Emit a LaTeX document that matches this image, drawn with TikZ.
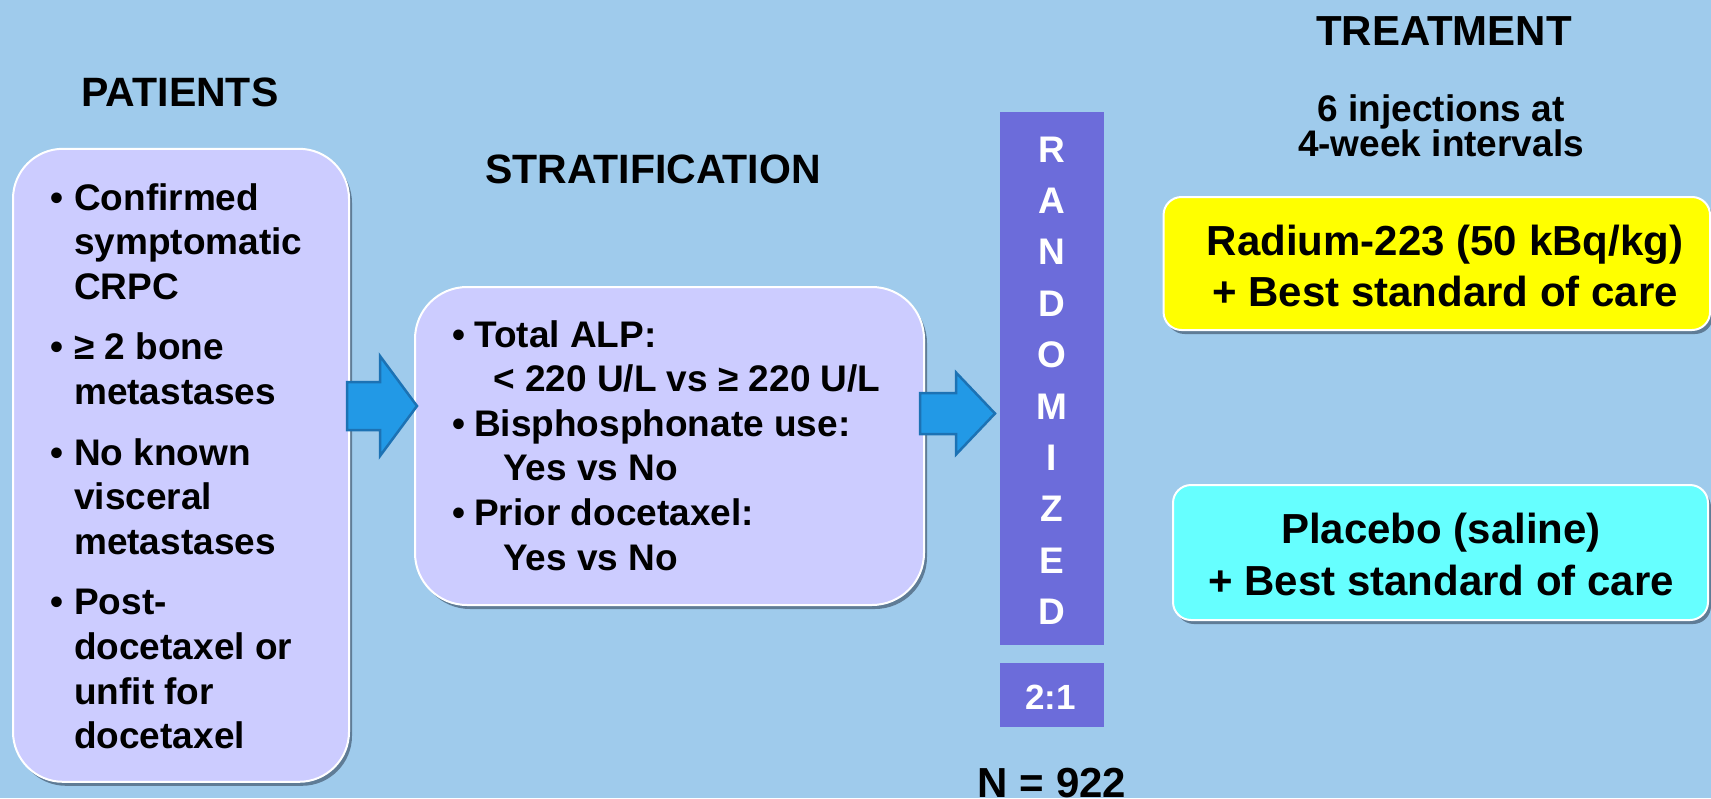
\documentclass[tikz,border=0pt]{standalone}
\usepackage{fontspec}
\setmainfont{Liberation Sans}
\usetikzlibrary{shadows}
\definecolor{bgblue}{HTML}{9FCBEC}
\definecolor{lav}{HTML}{CCCCFF}
\definecolor{barc}{HTML}{6C6CDA}
\definecolor{arrfill}{HTML}{2299E6}
\definecolor{arrline}{HTML}{1C72B4}
\definecolor{shadowc}{HTML}{5F7C96}
\definecolor{yel}{HTML}{FFFF00}
\definecolor{cyn}{HTML}{66FFFF}
\newcommand\fsz[2]{\fontsize{#1}{#2}\selectfont}
\tikzset{
  panel/.style={draw=white, line width=2pt, inner sep=0pt,
    drop shadow={shadow xshift=3pt, shadow yshift=-4pt, fill=shadowc, opacity=1}},
  barbox/.style={fill=barc, inner sep=0pt},
  blockarrow/.style={fill=arrfill, draw=arrline, line width=2.5pt, line join=miter},
  titletext/.style={font=\bfseries\fsz{41}{45}, inner sep=0pt, anchor=base},
  listtext/.style={font=\bfseries\fsz{37}{44.6}, align=left, inner sep=0pt, anchor=base west},
  boxtext/.style={font=\bfseries\fsz{42}{51.7}, align=center, inner sep=0pt, anchor=base},
}
\newcommand\bul[1]{\llap{\makebox[#1][l]{•}}}
\begin{document}
\begin{tikzpicture}[x=1pt,y=-1pt]
\fill[bgblue] (0,0) rectangle (1711,798);
\useasboundingbox (0,0) rectangle (1711,798);

% titles (multi-line nodes are anchored at the baseline of their last line)
\node[titletext] (ttpat) at (180,106.7) {PATIENTS};
\node[titletext] (ttstrat) at (653,183.3) {STRATIFICATION};
\node[titletext, font=\bfseries\fsz{42}{45}] (tttreat) at (1444,45) {TREATMENT};
\node[titletext, font=\bfseries\fsz{37}{34}, align=center] (ttinj) at (1441,156.7) {6 injections at\\4-week intervals};

% patients box
\node[panel, fill=lav, rounded corners=50pt, minimum width=336pt, minimum height=633pt] (pat) at (181,465.3) {};
\node[listtext] (pattext) at (74,748.6) {\bul{24pt}Confirmed\\symptomatic\\CRPC\\[16pt]
\bul{24pt}≥ 2 bone\\metastases\\[16pt]
\bul{24pt}No known\\visceral\\metastases\\[16pt]
\bul{24pt}Post-\\docetaxel or\\unfit for\\docetaxel};

% stratification box
\node[panel, fill=lav, rounded corners=52pt, minimum width=509pt, minimum height=318pt] (strat) at (669.5,446) {};
\node[listtext] (strattext) at (474,570) {\bul{22pt}Total ALP:\\\hspace{19pt}< 220 U/L vs ≥ 220 U/L\\
\bul{22pt}Bisphosphonate use:\\\hspace{29pt}Yes vs No\\
\bul{22pt}Prior docetaxel:\\\hspace{29pt}Yes vs No};

% arrows
\coordinate (a1s) at (347,406);
\coordinate (a2s) at (920,413.5);
\draw[blockarrow] (347,382) -- (380,382) -- (380,356) -- (417,406) -- (380,456) -- (380,430) -- (347,430) -- cycle;
\draw[blockarrow] (920,393) -- (956,393) -- (956,372.5) -- (995,413.5) -- (956,454.5) -- (956,434) -- (920,434) -- cycle;

% randomized bar
\node[barbox, minimum width=104pt, minimum height=532.7pt] (rand) at (1052,378.4) {};
\node[boxtext, font=\bfseries\fsz{37}{51.4}, text=white] (randtext) at (1052,624.6) {R\\A\\N\\D\\O\\M\\I\\Z\\E\\D};
\node[barbox, minimum width=104pt, minimum height=64pt] (ratio) at (1052,694.7) {};
\node[boxtext, font=\bfseries\fsz{35}{40}, text=white] (ratiotext) at (1050.5,709) {2:1};
\node[boxtext] (ntext) at (1052,797) {N = 922};

% treatment boxes
\node[panel, fill=yel, rounded corners=18pt, minimum width=546.5pt, minimum height=133pt] (radium) at (1436.8,263.5) {};
\node[boxtext] (radtext) at (1445,306.7) {Radium-223 (50 kBq/kg)\\+ Best standard of care};
\node[panel, fill=cyn, rounded corners=18pt, minimum width=535pt, minimum height=135pt] (placebo) at (1440.5,552.5) {};
\node[boxtext] (plactext) at (1441,595) {Placebo (saline)\\+ Best standard of care};
\end{tikzpicture}
\end{document}
